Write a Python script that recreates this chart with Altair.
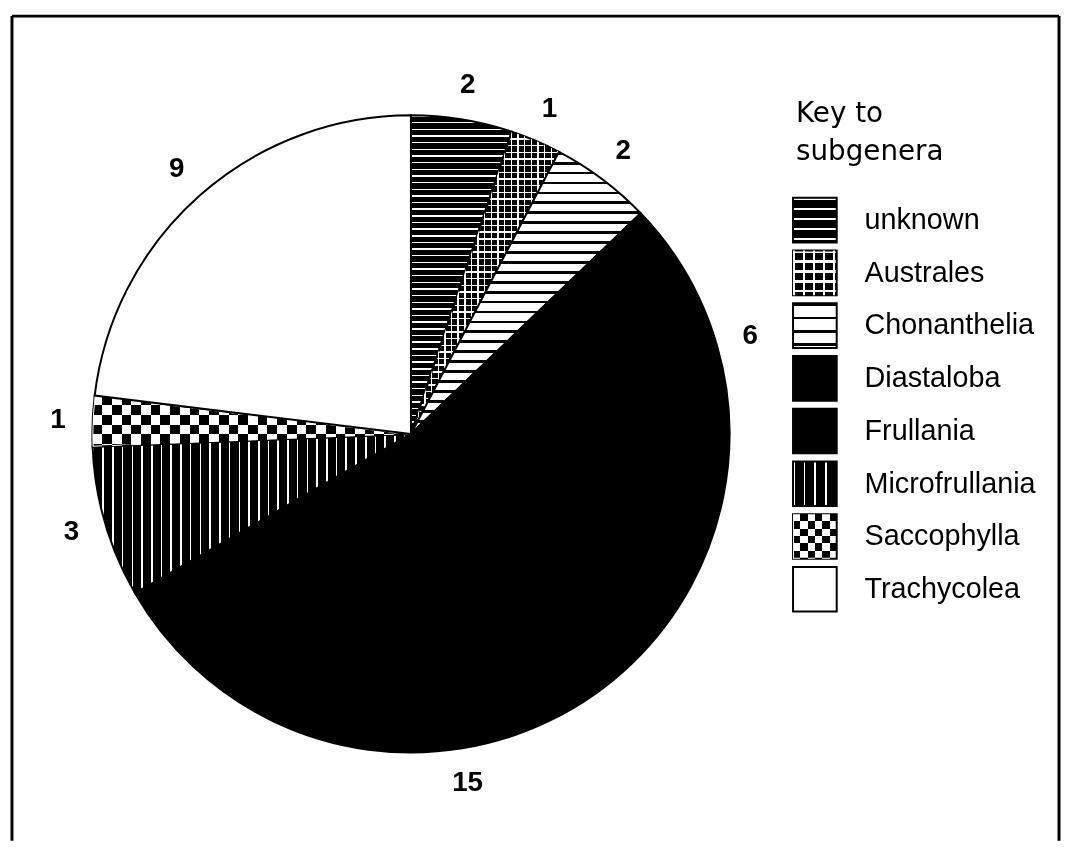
import math
import altair as alt
import pandas as pd

# ---- data ----
names = ["unknown", "Australes", "Chonanthelia", "Diastaloba", "Frullania",
         "Microfrullania", "Saccophylla", "Trachycolea"]
counts = [2, 1, 2, 6, 15, 3, 1, 9]
labels = ["2", "1", "2", "6", "15", "3", "1", "9"]
title_lines = ["Key to", "subgenera"]

total = sum(counts)
df = pd.DataFrame({"name": names, "count": counts, "label": labels,
                   "order": list(range(len(names)))})

# ---- layout / style ----
W, H = 1053, 831
CX, CY = 402, 421
R = 321
LR = 356
LEG_X = 787
BLACK, WHITE, CLEAR = "#000000", "#ffffff", "rgba(0,0,0,0)"


def stripes(extent, period, on, on_color, off_color, vertical_lines=False):
    segs = []
    s = 0.0
    while s < extent:
        segs.append((s, min(s + on, extent), on_color))
        if s + on < extent:
            segs.append((s + on, min(s + period, extent), off_color))
        s += period
    stops = []
    for a, b, c in segs:
        stops.append({"offset": round(a / extent, 5), "color": c})
        stops.append({"offset": round(b / extent, 5), "color": c})
    g = {"gradient": "linear", "stops": stops, "x1": 0, "y1": 0}
    if vertical_lines:
        g.update({"x2": 1, "y2": 0})
    else:
        g.update({"x2": 0, "y2": 1})
    return g


def slice_bbox(i):
    a0 = sum(counts[:i]) / total * 2 * math.pi
    a1 = sum(counts[:i + 1]) / total * 2 * math.pi
    pts = [(0.0, 0.0)]
    angs = [a0, a1] + [k * math.pi / 2 for k in range(5) if a0 < k * math.pi / 2 < a1]
    for a in angs:
        pts.append((R * math.sin(a), -R * math.cos(a)))
    xs = [p[0] for p in pts]
    ys = [p[1] for p in pts]
    return max(xs) - min(xs), max(ys) - min(ys)


def fills(name, w, h, small):
    """list of (fill, blend) layers for the given category and bbox"""
    sc = 1.5 if small else 1.0
    if name == "unknown":
        p = 6.7 * sc
        return [(stripes(h, p, 1.5 * sc, WHITE, BLACK), None)]
    if name == "Australes":
        p = 6.7 * sc
        return [(stripes(h, p, 1.4 * sc, WHITE, BLACK), None),
                (stripes(w, p, 1.4 * sc, WHITE, CLEAR, vertical_lines=True), None)]
    if name == "Chonanthelia":
        p = 10.0 * (1.35 if small else 1.0)
        return [(stripes(h, p, 2.8, BLACK, WHITE), None)]
    if name in ("Diastaloba", "Frullania"):
        return [(BLACK, None)]
    if name == "Microfrullania":
        p = 9.8 * (1.1 if small else 1.0)
        return [(stripes(w, p, 1.6, WHITE, BLACK, vertical_lines=True), None)]
    if name == "Saccophylla":
        c = 9.8 * (0.75 if small else 1.0)
        return [(stripes(h, 2 * c, c, BLACK, WHITE), None),
                (stripes(w, 2 * c, c, WHITE, CLEAR, vertical_lines=True), "difference")]
    return [(WHITE, None)]


theta_scale = alt.Scale(domain=[0, total])

pie_base = alt.Chart(df).transform_window(
    cum="sum(count)", sort=[alt.SortField("order")], frame=[None, 0]
).transform_calculate(
    start="datum.cum - datum.count",
    mid="datum.cum - datum.count / 2",
)

layers = []

# pie slices
for i, n in enumerate(names):
    w, h = slice_bbox(i)
    for j, (f, blend) in enumerate(fills(n, w, h, False)):
        kw = dict(radius=R, fill=f)
        if j == 0:
            kw.update(stroke=BLACK, strokeWidth=2)
        if blend:
            kw["blend"] = blend
        layers.append(
            pie_base.transform_filter(alt.datum.name == n).mark_arc(**kw).encode(
                theta=alt.Theta("start:Q", scale=theta_scale, stack=None),
                theta2="cum:Q",
                x=alt.value(CX), y=alt.value(CY),
            )
        )

# count labels
layers.append(
    pie_base.mark_text(radius=LR, font="Liberation Sans", fontWeight="bold",
                       fontSize=28, color=BLACK, align="center",
                       baseline="middle").encode(
        theta=alt.Theta("mid:Q", scale=theta_scale, stack=None),
        text="label:N",
        x=alt.value(CX), y=alt.value(CY),
    )
)

# legend
yscale = alt.Scale(domain=names, range=[183, 600], paddingInner=0.1525, paddingOuter=0)
leg = alt.Chart(df)
for n in names:
    for j, (f, blend) in enumerate(fills(n, 44, 45, True)):
        kw = dict(fill=f)
        if j == 0:
            kw.update(stroke=BLACK, strokeWidth=2)
        if blend:
            kw["blend"] = blend
        layers.append(
            leg.transform_filter(alt.datum.name == n).mark_rect(**kw).encode(
                y=alt.Y("name:N", scale=yscale, axis=None),
                x=alt.value(LEG_X), x2=alt.value(LEG_X + 44),
            )
        )

layers.append(
    leg.mark_text(align="left", baseline="middle", font="Liberation Sans",
                  fontSize=29, color=BLACK).encode(
        y=alt.Y("name:N", scale=yscale, axis=None),
        x=alt.value(LEG_X + 72),
        text="name:N",
    )
)

# legend title
one = pd.DataFrame({"k": [0]})
layers.append(
    alt.Chart(one).mark_text(align="left", baseline="alphabetic", font="DejaVu Sans",
                             fontSize=28, lineHeight=38, color=BLACK).encode(
        x=alt.value(LEG_X + 3), y=alt.value(107), text=alt.value(title_lines)
    )
)

# frame
frame = alt.Chart(one).mark_rule(color=BLACK, strokeWidth=3)
layers += [
    frame.encode(x=alt.value(0), y=alt.value(0), y2=alt.value(H)),
    frame.encode(x=alt.value(0), x2=alt.value(1055), y=alt.value(0)),
    frame.encode(x=alt.value(1055), y=alt.value(0), y2=alt.value(H)),
]

chart = alt.layer(*layers).properties(
    width=W, height=H,
    padding={"left": 4, "top": 5, "right": 4, "bottom": 0},
    autosize=alt.AutoSizeParams(type="none"),
).configure_view(stroke=None)

chart.save("out.html", embed_options={"renderer": "svg", "actions": False})
